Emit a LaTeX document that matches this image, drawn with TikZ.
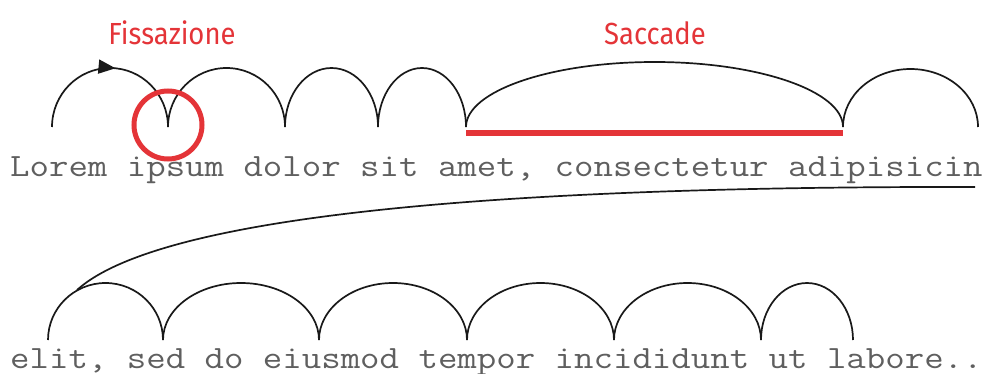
\documentclass[tikz,border=0pt]{standalone}
\usepackage{fontspec}
\usetikzlibrary{arrows.meta,decorations.markings}
\newfontfamily\labelfont{Fira Sans}[FakeStretch=0.9]
\newfontfamily\typewriter{Latin Modern Mono}[FakeStretch=1.162]
\definecolor{markred}{RGB}{228,52,56}
\definecolor{inkgrey}{RGB}{95,95,95}
\definecolor{pathblack}{RGB}{25,25,25}

\begin{document}
\begin{tikzpicture}[x=1pt,y=-1pt,
  eyepath/.style={draw=pathblack,line width=1.7pt},
  textline/.style={anchor=base west,inner sep=0pt,text=inkgrey,
    font=\typewriter\fontsize{32.5}{36}\selectfont},
  tag/.style={text=markred,inner sep=0pt,font=\labelfont\fontsize{30.5}{34}\selectfont},
  fixring/.style={draw=markred,line width=5pt},
  saccbar/.style={draw=markred,line width=5.5pt},
  firstarrow/.style={postaction={decorate,decoration={markings,
    mark=at position 0.53 with {\arrow{Triangle[length=17pt,width=14pt]}}}}}]
  \useasboundingbox (0,0) rectangle (987,374);

  % labels
  \node[tag] (fixlabel) at (172,33) {Fissazione};
  \node[tag] (saclabel) at (655,33) {Saccade};

  % text lines
  \node[textline] (line1) at (10,177) {Lorem ipsum dolor sit amet, consectetur adipisicin};
  \node[textline] (line2) at (10,368) {elit, sed do eiusmod tempor incididunt ut labore..};

  % first line: fixation jumps
  \coordinate (a0) at (52,127);
  \coordinate (a1) at (168,127);
  \draw[eyepath,firstarrow] (a0) arc[start angle=180,end angle=360,x radius=58,y radius=59];
  \foreach [count=\i] \xa/\xb/\h in {168/285/59, 285/378/59, 378/466/59, 466/843/65, 843/978/58}{
    \coordinate (b\i) at (\xa,127);
    \draw[eyepath] (b\i) arc[start angle=180,end angle=360,x radius={(\xb-\xa)/2},y radius=\h];
  }

  % fixation ring and saccade span
  \draw[fixring] (a1) ++(0,-2) circle[radius=34];
  \coordinate (s0) at (466,133);
  \coordinate (s1) at (843,133);
  \draw[saccbar] (s0) -- (s1);

  % return sweep to the next line
  \coordinate (sweepstart) at (975,187);
  \coordinate (sweepend) at (77,290);
  \draw[eyepath] (sweepstart) .. controls (500,186) and (160,215) .. (sweepend);

  % second line: fixation jumps
  \foreach [count=\i] \xa/\xb in {48/163, 163/319, 319/467, 467/614, 614/761, 761/853}{
    \coordinate (c\i) at (\xa,340);
    \draw[eyepath] (c\i) arc[start angle=180,end angle=360,x radius={(\xb-\xa)/2},y radius=57];
  }
\end{tikzpicture}
\end{document}
